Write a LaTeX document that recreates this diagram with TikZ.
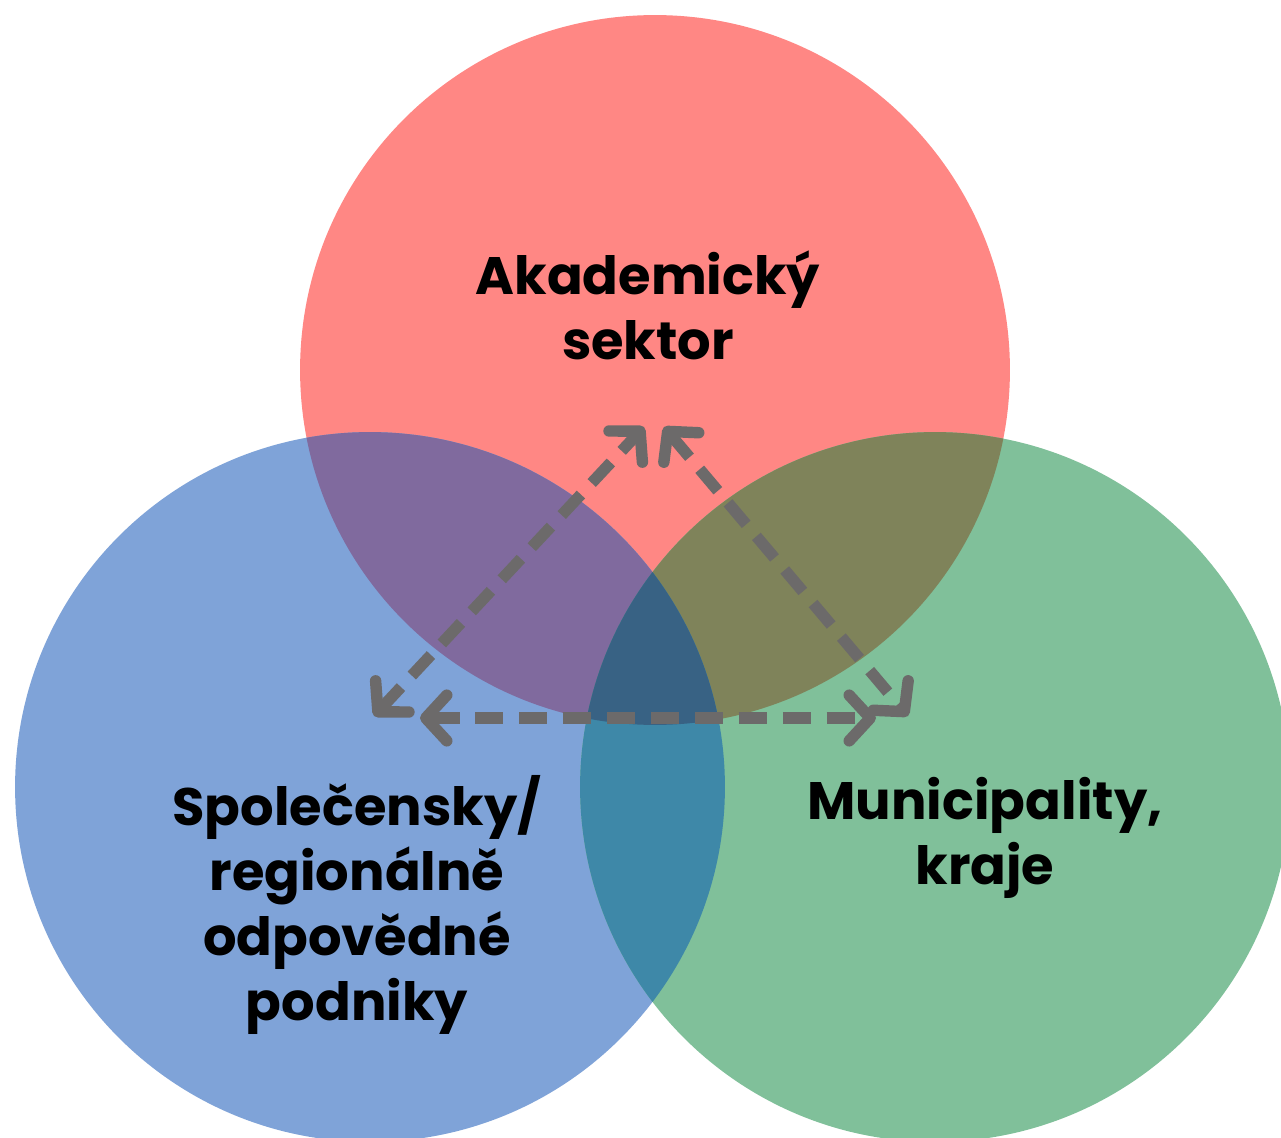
\documentclass[tikz,border=0pt]{standalone}
\usepackage{fontspec}
\setmainfont{Poppins}
\usetikzlibrary{arrows.meta, positioning}
\definecolor{akadred}{RGB}{255,135,132}
\definecolor{firmblue}{RGB}{127,163,216}
\definecolor{munigreen}{RGB}{128,192,154}
\definecolor{redblue}{RGB}{128,106,158}
\definecolor{redgreen}{RGB}{127,131,90}
\definecolor{bluegreen}{RGB}{62,136,168}
\definecolor{allthree}{RGB}{56,98,132}
\definecolor{linkgray}{RGB}{108,106,106}
\begin{document}
\begin{tikzpicture}[x=0.02cm, y=-0.02cm,
        circ/.style={circle, minimum size=14.2cm, inner sep=0pt},
        sectortext/.style={font=\bfseries\fontsize{30}{37}\selectfont, align=center, text=black},
        link/.style={draw=linkgray, line width=6.5pt, dash pattern=on 16pt off 9pt,
            {Straight Barb[length=12pt, width=26pt, round]}-{Straight Barb[length=12pt, width=26pt, round]}}
    ]
        \fill[white] (0,0) rectangle (1281,1138);
        \useasboundingbox (0,0) rectangle (1281,1138);

        % the three sectors
        \node[circ, fill=akadred] (akad) at (655,370) {};
        \node[circ, fill=firmblue] (firm) at (370,787) {};
        \node[circ, fill=munigreen] (muni) at (935,787) {};

        % overlaps
        \begin{scope}
            \clip (akad.center) circle (7.1cm);
            \fill[redblue] (firm.center) circle (7.1cm);
            \fill[redgreen] (muni.center) circle (7.1cm);
        \end{scope}
        \begin{scope}
            \clip (firm.center) circle (7.1cm);
            \fill[bluegreen] (muni.center) circle (7.1cm);
            \clip (muni.center) circle (7.1cm);
            \fill[allthree] (akad.center) circle (7.1cm);
        \end{scope}

        \node[sectortext] (akadtxt) at (648,305) {Akademický\\sektor};
        \node[sectortext] (firmtxt) at (357,905) {Společensky/\\regionálně\\odpovědné\\podniky};
        \node[sectortext] (munitxt) at (985,838) {Municipality,\\kraje};

        % links between sectors
        \coordinate (akadL) at (644,427);
        \coordinate (akadR) at (664,427);
        \coordinate (firmT) at (374,716);
        \coordinate (firmR) at (420,718);
        \coordinate (muniL) at (876,718);
        \coordinate (muniT) at (908,716);

        \draw[link] (firmT) -- (akadL);
        \draw[link] (akadR) -- (muniT);
        \draw[link] (firmR) -- (muniL);
    \end{tikzpicture}
\end{document}
